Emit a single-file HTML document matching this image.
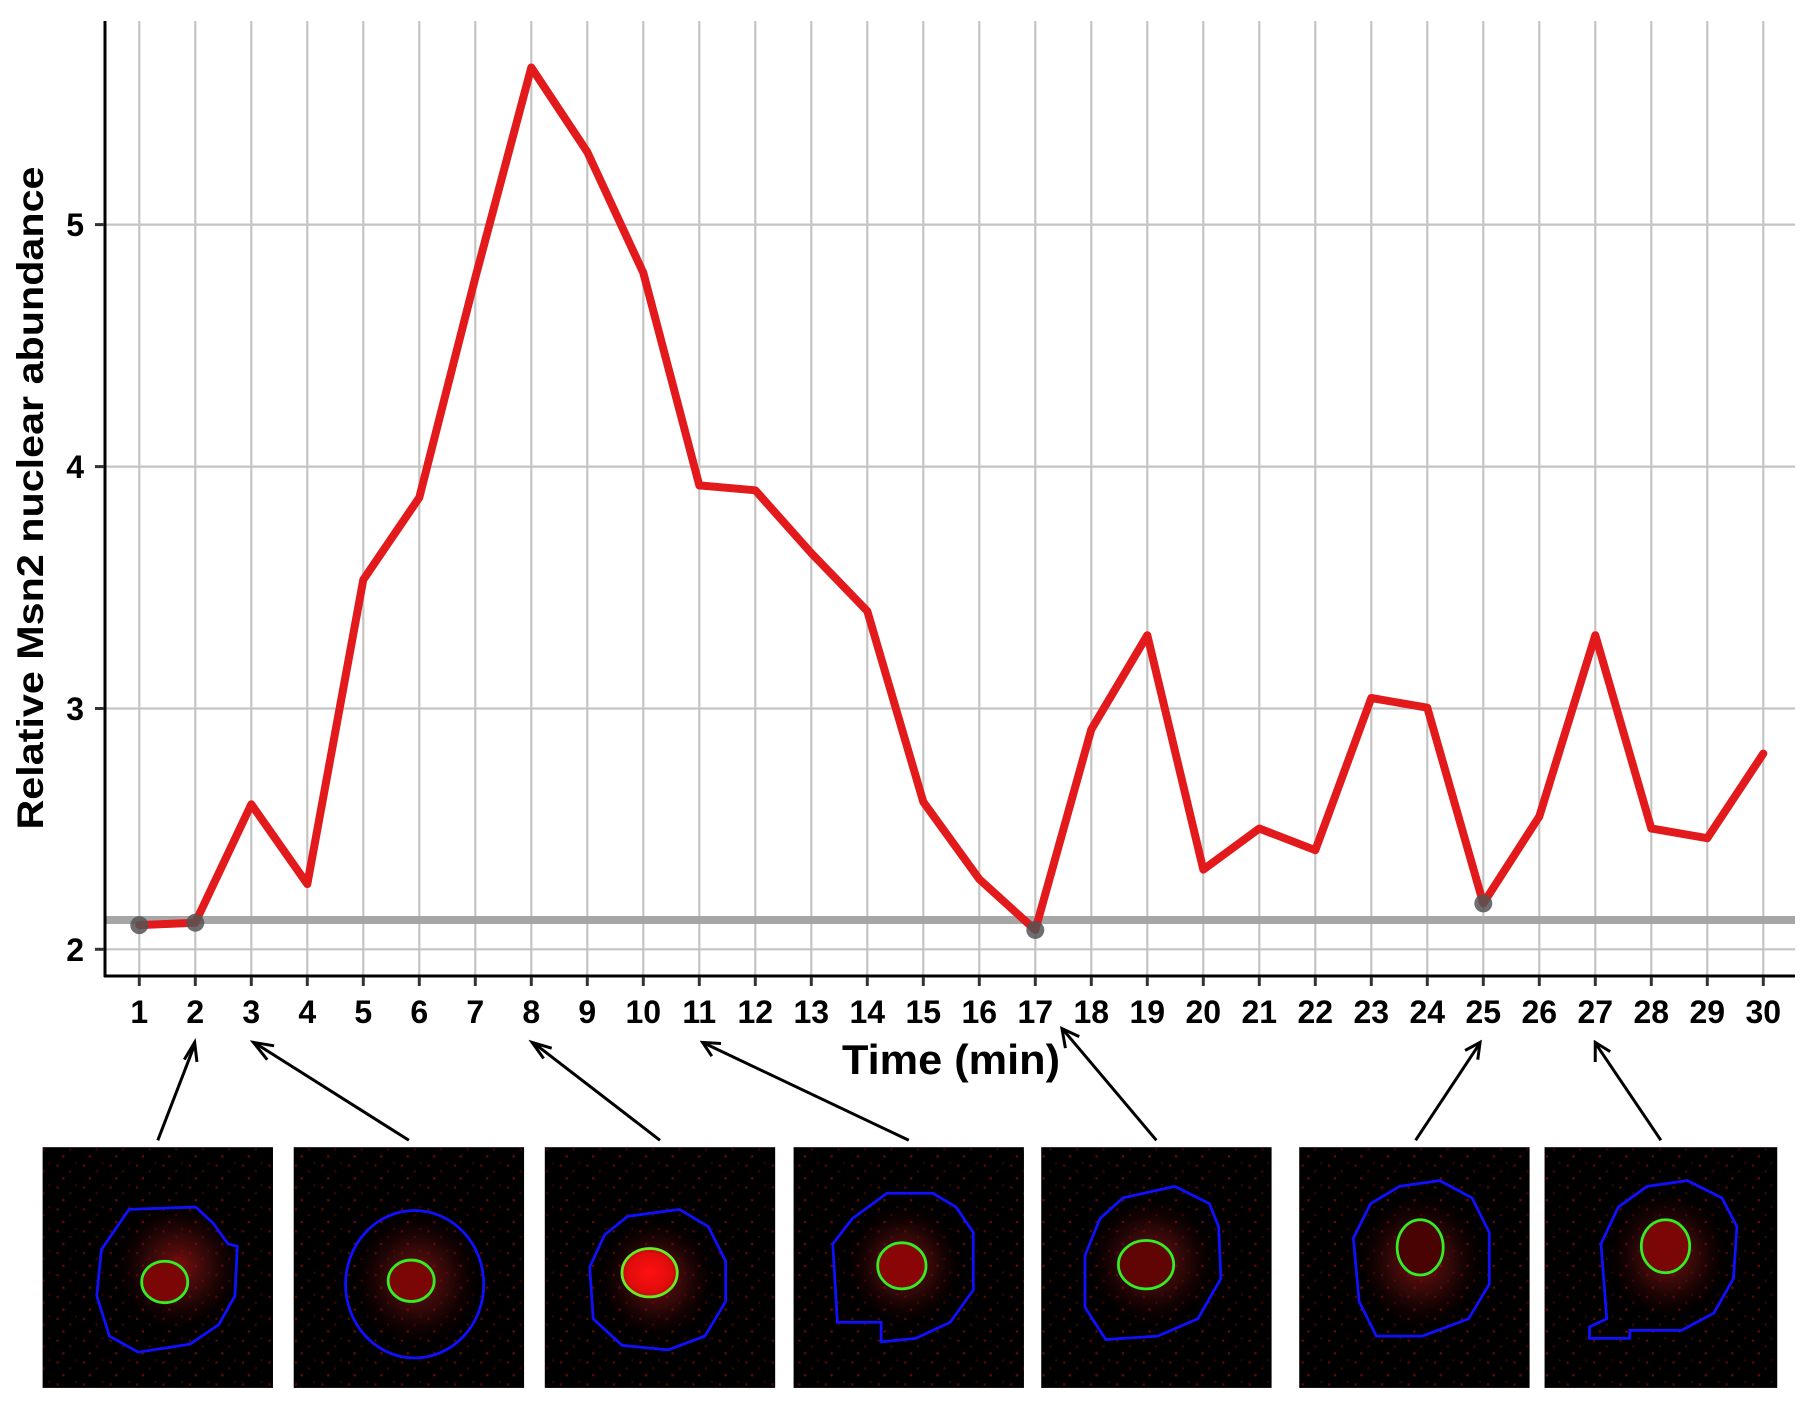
<!DOCTYPE html>
<html><head><meta charset="utf-8"><style>
html,body{margin:0;padding:0;background:#fff;}
svg{display:block;}
text{font-family:"Liberation Sans",Arial,sans-serif;font-weight:bold;fill:#000;}
</style></head><body>
<svg width="1806" height="1411" viewBox="0 0 1806 1411" xmlns="http://www.w3.org/2000/svg">
<defs>
<radialGradient id="glow" cx="0.5" cy="0.5" r="0.5">
<stop offset="0" stop-color="#a01010" stop-opacity="0.8"/>
<stop offset="0.5" stop-color="#601010" stop-opacity="0.5"/>
<stop offset="1" stop-color="#300000" stop-opacity="0"/>
</radialGradient>
<radialGradient id="nuc" cx="0.5" cy="0.5" r="0.5">
<stop offset="0" stop-color="#ff1010"/>
<stop offset="0.8" stop-color="#e00c0c"/>
<stop offset="1" stop-color="#bb0808"/>
</radialGradient>
<pattern id="noise" width="23" height="19" patternUnits="userSpaceOnUse">
<rect width="23" height="19" fill="#000"/>
<rect x="3" y="4" width="2" height="2" fill="#5a0606"/>
<rect x="14" y="9" width="2" height="2" fill="#3a0404"/>
<rect x="8" y="15" width="2" height="2" fill="#6a0808"/>
<rect x="19" y="2" width="2" height="2" fill="#300303"/>
</pattern>
</defs>
<g id="grid" stroke="#c4c4c4" stroke-width="2.2">
<line x1="105" y1="224.6" x2="1795" y2="224.6"/>
<line x1="105" y1="466.6" x2="1795" y2="466.6"/>
<line x1="105" y1="708.5" x2="1795" y2="708.5"/>
<line x1="105" y1="949.3" x2="1795" y2="949.3"/>
</g>
<g stroke="#c4c4c4" stroke-width="2.2" id="vg"></g>
<line x1="105" y1="920" x2="1795" y2="920" stroke="#a6a6a6" stroke-width="8"/>
<polyline id="series" fill="none" stroke="#e31a1c" stroke-width="8" stroke-linejoin="round" stroke-linecap="round"/>
<g fill="#555" fill-opacity="0.85" id="dots"></g>
<line x1="105" y1="21" x2="105" y2="977" stroke="#000" stroke-width="3"/>
<line x1="104" y1="976" x2="1795" y2="976" stroke="#000" stroke-width="3"/>
<g stroke="#333" stroke-width="3">
<line x1="95" y1="224.6" x2="104" y2="224.6"/><line x1="95" y1="466.6" x2="104" y2="466.6"/>
<line x1="95" y1="708.5" x2="104" y2="708.5"/><line x1="95" y1="949.3" x2="104" y2="949.3"/>
</g>
<g font-size="32" text-anchor="end">
<text x="84" y="236">5</text><text x="84" y="478">4</text><text x="84" y="720">3</text><text x="84" y="961">2</text>
</g>
<g id="xt" font-size="32" text-anchor="middle"></g>
<g id="xtk" stroke="#333" stroke-width="3"></g>
<text x="951" y="1074" font-size="42" text-anchor="middle" textLength="218" lengthAdjust="spacingAndGlyphs">Time  (min)</text>
<text transform="translate(43,498) rotate(-90)" font-size="37" text-anchor="middle" textLength="663" lengthAdjust="spacingAndGlyphs">Relative Msn2 nuclear abundance</text>

<g transform="scale(1.1518)">
<g stroke="#000" stroke-width="2.6" fill="none">
<line x1="137" y1="990" x2="169" y2="907"/><polyline points="160,920 169,905 171,922"/>
<line x1="355" y1="990" x2="222" y2="906"/><polyline points="232,920 220,905 238,908"/>
<line x1="573" y1="990" x2="464" y2="906"/><polyline points="472,919 462,905 479,910"/>
<line x1="789" y1="990" x2="612" y2="906"/><polyline points="618,917 610,905 626,906"/>
<line x1="1004" y1="990" x2="923" y2="894"/><polyline points="925,910 922,893 937,900"/>
<line x1="1229" y1="990" x2="1284" y2="907"/><polyline points="1272,912 1285,905 1283,920"/>
<line x1="1442" y1="990" x2="1386" y2="907"/><polyline points="1385,922 1385,905 1398,913"/>
</g>
<g>
<rect x="37" y="996" width="200" height="209" fill="url(#noise)"/>
<ellipse cx="155" cy="1100" rx="55" ry="55" fill="url(#glow)"/>
<path d="M112,1050 L170,1048 L185,1062 L198,1080 L206,1082 L204,1125 L190,1150 L165,1167 L120,1174 L95,1160 L84,1125 L88,1085 Z" fill="none" stroke="#1010ff" stroke-width="2.4"/>
<ellipse cx="143" cy="1113" rx="20" ry="18" fill="#7a0606" stroke="#33ee22" stroke-width="2.4"/>

<rect x="255" y="996" width="200" height="209" fill="url(#noise)"/>
<ellipse cx="362" cy="1110" rx="55" ry="58" fill="url(#glow)"/>
<ellipse cx="360" cy="1115" rx="60" ry="64" fill="none" stroke="#1010ff" stroke-width="2.4"/>
<ellipse cx="357" cy="1112" rx="20" ry="18" fill="#7a0606" stroke="#33ee22" stroke-width="2.4"/>

<rect x="473" y="996" width="200" height="209" fill="url(#noise)"/>
<ellipse cx="570" cy="1110" rx="50" ry="52" fill="url(#glow)"/>
<path d="M545,1056 L590,1050 L615,1065 L630,1095 L630,1130 L612,1160 L580,1172 L540,1168 L515,1145 L512,1100 L525,1072 Z" fill="none" stroke="#1010ff" stroke-width="2.4"/>
<ellipse cx="564" cy="1105" rx="24" ry="21" fill="url(#nuc)" stroke="#66ee22" stroke-width="2.4"/>

<rect x="689" y="996" width="200" height="209" fill="url(#noise)"/>
<ellipse cx="785" cy="1098" rx="50" ry="52" fill="url(#glow)"/>
<path d="M770,1036 L810,1036 L830,1048 L845,1070 L845,1120 L825,1148 L795,1162 L765,1165 L765,1148 L727,1148 L723,1080 L740,1058 Z" fill="none" stroke="#1010ff" stroke-width="2.4"/>
<ellipse cx="783" cy="1099" rx="21" ry="20" fill="#8a0606" stroke="#33ee22" stroke-width="2.4"/>

<rect x="904" y="996" width="200" height="209" fill="url(#noise)"/>
<ellipse cx="1000" cy="1095" rx="55" ry="55" fill="url(#glow)"/>
<path d="M975,1040 L1020,1030 L1050,1045 L1058,1065 L1060,1110 L1040,1145 L1005,1160 L960,1163 L942,1135 L942,1090 L955,1058 Z" fill="none" stroke="#1010ff" stroke-width="2.4"/>
<ellipse cx="995" cy="1098" rx="24" ry="21" fill="#600404" stroke="#33ee22" stroke-width="2.4"/>

<rect x="1128" y="996" width="200" height="209" fill="url(#noise)"/>
<ellipse cx="1233" cy="1095" rx="55" ry="58" fill="url(#glow)"/>
<path d="M1215,1030 L1250,1025 L1278,1040 L1293,1070 L1293,1115 L1275,1145 L1235,1160 L1195,1160 L1180,1130 L1175,1075 L1190,1045 Z" fill="none" stroke="#1010ff" stroke-width="2.4"/>
<ellipse cx="1233" cy="1083" rx="20" ry="24" fill="#4a0303" stroke="#33ee22" stroke-width="2.4"/>

<rect x="1341" y="996" width="202" height="209" fill="url(#noise)"/>
<ellipse cx="1448" cy="1090" rx="52" ry="55" fill="url(#glow)"/>
<path d="M1430,1030 L1465,1025 L1495,1040 L1508,1065 L1505,1110 L1488,1140 L1460,1155 L1415,1155 L1415,1162 L1380,1162 L1380,1152 L1395,1145 L1390,1080 L1405,1048 Z" fill="none" stroke="#1010ff" stroke-width="2.4"/>
<ellipse cx="1446" cy="1082" rx="21" ry="23" fill="#7a0606" stroke="#33ee22" stroke-width="2.4"/>
</g>
</g>
</svg>
<script>
var v=[2.10,2.11,2.60,2.27,3.53,3.87,4.78,5.65,5.30,4.80,3.92,3.90,3.64,3.40,2.61,2.29,2.08,2.91,3.30,2.33,2.50,2.41,3.04,3.00,2.19,2.55,3.30,2.50,2.46,2.81];
var NS="http://www.w3.org/2000/svg";
function X(i){return 139.3+i*56.0;}function Y(a){return 949.3-(a-2)*241.6;}
var pts=v.map(function(a,i){return X(i).toFixed(1)+","+Y(a).toFixed(1);}).join(" ");
document.getElementById("series").setAttribute("points",pts);
var vg=document.getElementById("vg"),xt=document.getElementById("xt"),xtk=document.getElementById("xtk"),d=document.getElementById("dots");
for(var i=0;i<30;i++){
 var l=document.createElementNS(NS,"line");l.setAttribute("x1",X(i));l.setAttribute("x2",X(i));l.setAttribute("y1",21);l.setAttribute("y2",976);vg.appendChild(l);
 var k=document.createElementNS(NS,"line");k.setAttribute("x1",X(i));k.setAttribute("x2",X(i));k.setAttribute("y1",977);k.setAttribute("y2",986);xtk.appendChild(k);
 var t=document.createElementNS(NS,"text");t.setAttribute("x",X(i));t.setAttribute("y",1023);t.textContent=String(i+1);xt.appendChild(t);
}
[0,1,16,24].forEach(function(i){var c=document.createElementNS(NS,"circle");c.setAttribute("cx",X(i));c.setAttribute("cy",Y(v[i]));c.setAttribute("r",9);d.appendChild(c);});
</script>
</body></html>
